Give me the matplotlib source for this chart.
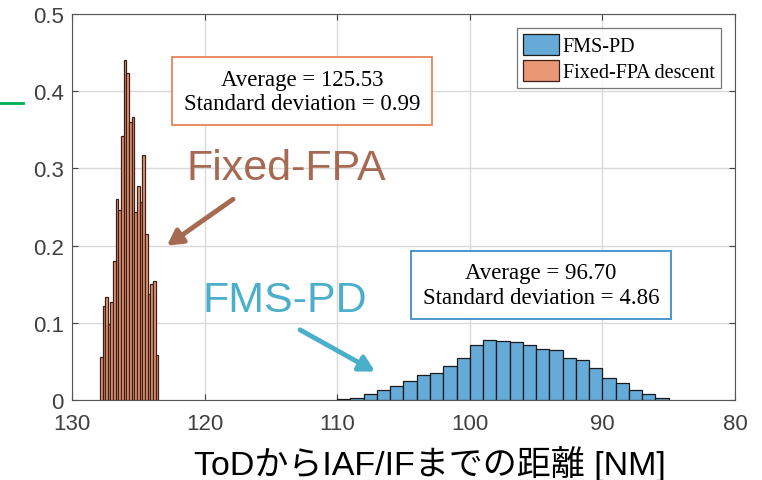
import numpy as np
import matplotlib.pyplot as plt

plt.rcParams["font.family"] = ["Liberation Sans", "Noto Sans CJK JP", "DejaVu Sans"]

# FMS-PD: 1 NM bins, listed from 110 NM downwards (probability per bin)
fms_start = 110.0
fms_width = 1.0
fms_heights = [0.001, 0.003, 0.0077, 0.0137, 0.018, 0.025, 0.032, 0.035, 0.044,
               0.055, 0.071, 0.078, 0.076, 0.075, 0.071, 0.0665, 0.065, 0.055,
               0.052, 0.042, 0.029, 0.022, 0.0137, 0.0077, 0.003]

# Fixed-FPA descent: 0.2 NM bins, listed from 127.9 NM downwards (pdf)
fpa_start = 127.9
fpa_width = 0.2
fpa_heights = [0.056, 0.122, 0.133, 0.099, 0.127, 0.18, 0.26, 0.246, 0.342,
               0.44, 0.423, 0.36, 0.366, 0.243, 0.277, 0.256, 0.318, 0.215,
               0.137, 0.151, 0.154, 0.058]

fms_stats = (96.70, 4.86)
fpa_stats = (125.53, 0.99)

xticks = [130, 120, 110, 100, 90, 80]
yticks = [0, 0.1, 0.2, 0.3, 0.4, 0.5]

c_fms = "#66AAD7"
c_fpa = "#E89875"
c_fms_txt = "#4BAFCA"
c_fpa_txt = "#A66A52"

fig = plt.figure(figsize=(7.62, 4.81), dpi=100)
ax = fig.add_axes([0.0945, 0.166, 0.870, 0.803])

fms_left = fms_start - fms_width * (np.arange(len(fms_heights)) + 1)
fpa_left = fpa_start - fpa_width * (np.arange(len(fpa_heights)) + 1)

ax.bar(fms_left, fms_heights, width=fms_width, align="edge", color=c_fms,
       edgecolor="#1a1a1a", linewidth=0.9, label="FMS-PD", zorder=3)
ax.bar(fpa_left, fpa_heights, width=fpa_width, align="edge", color=c_fpa,
       edgecolor="#3a2018", linewidth=0.9, label="Fixed-FPA descent", zorder=3)

ax.set_xlim(130, 80)
ax.set_ylim(0, 0.5)
ax.set_xticks(xticks)
ax.set_yticks(yticks)
ax.set_yticklabels(["0", "0.1", "0.2", "0.3", "0.4", "0.5"])
ax.tick_params(direction="in", length=4, width=0.8, labelsize=16,
               colors="#404040", top=True, right=True, pad=6)
ax.tick_params(axis="x", pad=9)
ax.grid(True, color="#d9d9d9", linewidth=1.0, zorder=0)
for sp in ax.spines.values():
    sp.set_color("#555555")
    sp.set_linewidth(0.8)

leg = ax.legend(loc="upper right", prop={"family": "Liberation Serif", "size": 14.5},
                frameon=True, fancybox=False, edgecolor="#555555",
                borderaxespad=0.7, handlelength=1.8, handleheight=1.2,
                handletextpad=0.2, borderpad=0.3, labelspacing=0.2)
leg.get_frame().set_linewidth(0.9)

serif = {"family": "Liberation Serif", "size": 16.5}
ax.text(112.65, 0.40,
        f"Average = {fpa_stats[0]:.2f}\nStandard deviation = {fpa_stats[1]:.2f}",
        ha="center", va="center", fontdict=serif, linespacing=1.2, zorder=5,
        bbox=dict(boxstyle="square,pad=0.5", fc="white", ec="#E8835A", lw=1.3))
ax.text(94.63, 0.149,
        f"Average = {fms_stats[0]:.2f}\nStandard deviation = {fms_stats[1]:.2f}",
        ha="center", va="center", fontdict=serif, linespacing=1.2, zorder=5,
        bbox=dict(boxstyle="square,pad=0.5", fc="white", ec="#3D8FCB", lw=1.3))

ax.text(113.86, 0.301, "Fixed-FPA", ha="center", va="center",
        fontsize=31, color=c_fpa_txt, zorder=5)
ax.text(113.94, 0.13, "FMS-PD", ha="center", va="center",
        fontsize=31, color=c_fms_txt, zorder=5)

ax.annotate("", xy=(122.84, 0.2), xytext=(117.86, 0.26),
            arrowprops=dict(arrowstyle="-|>,head_length=0.9,head_width=0.5",
                            color=c_fpa_txt, lw=3.5, shrinkA=0, shrinkB=0),
            zorder=5)
ax.annotate("", xy=(107.15, 0.037), xytext=(112.8, 0.091),
            arrowprops=dict(arrowstyle="-|>,head_length=0.9,head_width=0.5",
                            color=c_fms_txt, lw=3.5, shrinkA=0, shrinkB=0),
            zorder=5)

fig.text(430 / 762, 1 - 464 / 481, "ToDからIAF/IFまでの距離 [NM]",
         ha="center", va="center", fontsize=24.5, color="black")

# short green marker at the left margin
fig.add_artist(plt.Line2D([0, 23 / 762], [1 - 104 / 481, 1 - 104 / 481],
                          color="#00B050", lw=2, transform=fig.transFigure))

fig.savefig("out.png", dpi=100)
